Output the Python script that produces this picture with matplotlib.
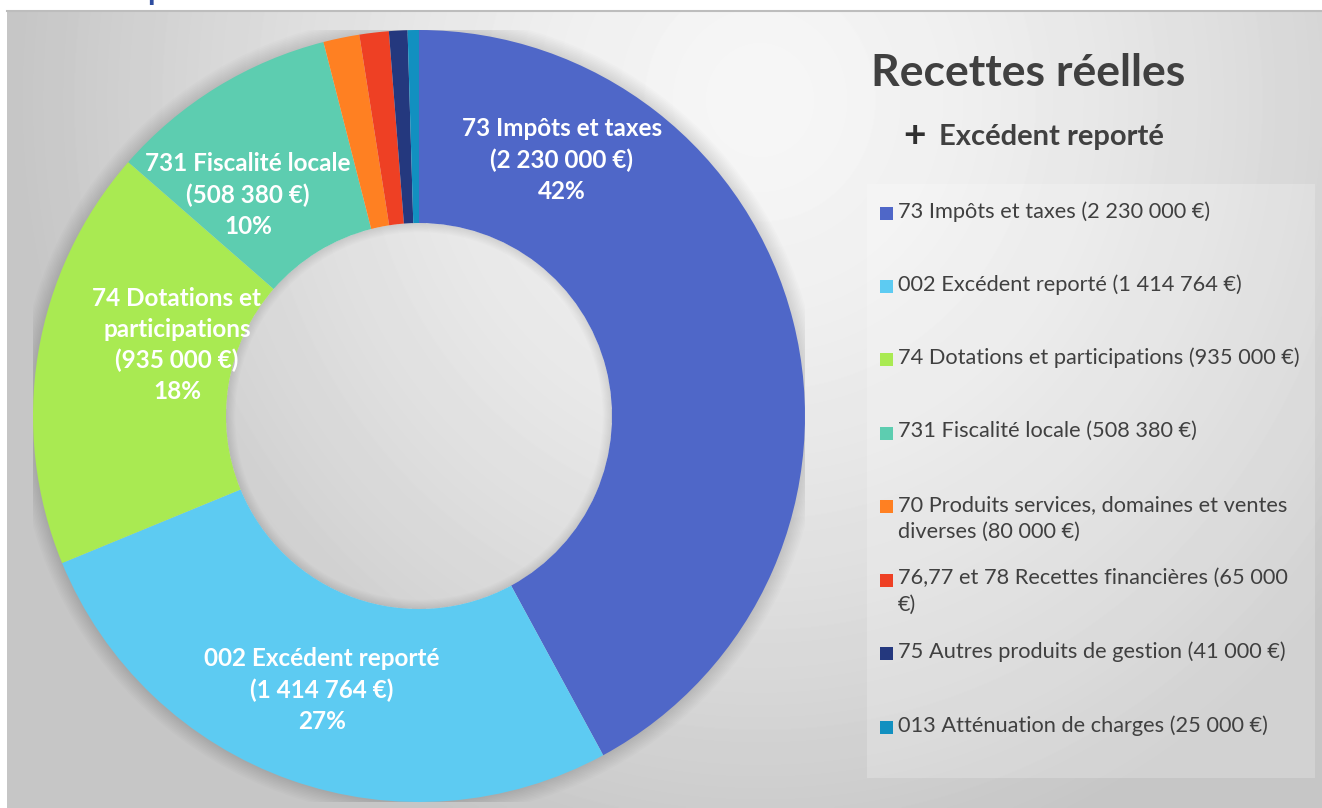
import numpy as np
import matplotlib
matplotlib.use("Agg")
import matplotlib.pyplot as plt
from matplotlib.patches import Rectangle, Wedge

plt.rcParams["font.family"] = ["Lato", "DejaVu Sans"]

# data
categories = [
    "73 Impôts et taxes",
    "002 Excédent reporté",
    "74 Dotations et participations",
    "731 Fiscalité locale",
    "70 Produits services, domaines et ventes diverses",
    "76,77 et 78 Recettes financières",
    "75 Autres produits de gestion",
    "013 Atténuation de charges",
]
values = [2230000, 1414764, 935000, 508380, 80000, 65000, 41000, 25000]
colors = ["#4F67C8", "#5DCBF2", "#A9EA52", "#5DCDB0",
          "#FF8022", "#EE4024", "#24387E", "#1290C0"]
legend_labels = [
    "73 Impôts et taxes (2 230 000 €)",
    "002 Excédent reporté (1 414 764 €)",
    "74 Dotations et participations (935 000 €)",
    "731 Fiscalité locale (508 380 €)",
    "70 Produits services, domaines et ventes\ndiverses (80 000 €)",
    "76,77 et 78 Recettes financières (65 000\n€)",
    "75 Autres produits de gestion (41 000 €)",
    "013 Atténuation de charges (25 000 €)",
]
# data label text for the 4 big slices
slice_labels = {
    0: "73 Impôts et taxes\n(2 230 000 €)",
    1: "002 Excédent reporté\n(1 414 764 €)",
    2: "74 Dotations et\nparticipations\n(935 000 €)",
    3: "731 Fiscalité locale\n(508 380 €)",
}
# where excel put those labels (data units, radius = 1)
label_pos = {0: (0.370, 0.663), 1: (-0.251, -0.710), 2: (-0.627, 0.184), 3: (-0.443, 0.573)}

W, H = 1322, 808
fig = plt.figure(figsize=(W / 100, H / 100), dpi=100)
fig.patch.set_facecolor("white")

# background gradient of the chart area
bg = fig.add_axes([7 / W, 0, 1 - 7 / W, (H - 11) / H])
bg.set_axis_off()
yy, xx = np.mgrid[11:H, 7:W]
d = np.sqrt(((xx - 760) / 740.0) ** 2 + ((yy - 100) / 780.0) ** 2)
d = np.clip(d, 0, 1)
shade = 246 - 48 * d ** 1.5
bg.imshow(shade, cmap="gray", vmin=0, vmax=255, aspect="auto",
          extent=[0, 1, 0, 1], interpolation="bilinear")
bg.set_xlim(0, 1)
bg.set_ylim(0, 1)
fig.add_artist(plt.Line2D([7 / W, 1], [(H - 10.5) / H] * 2, color="#BDBDBD", lw=1.5))

# cut off heading above the chart
fig.text(147 / W, 1.0, "p", color="#2E4DA0", fontsize=22, fontweight="bold", va="baseline")

# donut
cx, cy, R = 419, 416, 386
ax = fig.add_axes([(cx - R) / W, (H - cy - R) / H, 2 * R / W, 2 * R / H])

wedges, _ = ax.pie(values, colors=colors, startangle=90, counterclock=False, radius=1,
                   wedgeprops=dict(width=0.5, linewidth=0))
for w in wedges:
    w.set_zorder(3)
ax.set_xlim(-1, 1)
ax.set_ylim(-1, 1)
ax.set_axis_off()

# soft shadow around the ring and inside the hole
for k in range(10):
    ax.add_patch(Wedge((0, 0), 1.0 + 0.004 * (k + 1), 0, 360, width=0.004 * (k + 1) + 0.01,
                       facecolor="black", alpha=0.012, lw=0, zorder=1))
for k in range(8):
    ax.add_patch(Wedge((0, 0), 0.5, 0, 360, width=0.003 + 0.003 * k,
                       facecolor="black", alpha=0.012, lw=0, zorder=2))

total = sum(values)
for i, txt in slice_labels.items():
    pct = round(values[i] / total * 100)
    x, y = label_pos[i]
    ax.text(x, y, txt + "\n" + str(pct) + "%", ha="center", va="center", color="white",
            fontsize=17.5, fontweight="bold", linespacing=1.42, zorder=5)

# titles
fig.text(871 / W, (H - 73) / H, "Recettes réelles", fontsize=32, fontweight="bold",
         color="#404040", va="center")
fig.text(903 / W, (H - 135) / H, "+", fontsize=28, fontweight="bold", color="#303030", va="center")
fig.text(939 / W, (H - 137) / H, "Excédent reporté", fontsize=21, fontweight="bold",
         color="#404040", va="center")

# legend box
fig.add_artist(Rectangle((867 / W, (H - 778) / H), 448 / W, 594 / H, transform=fig.transFigure,
                         facecolor="white", alpha=0.22, lw=0))
rows = np.linspace(213, 727, len(legend_labels))
for y, lab, c in zip(rows, legend_labels, colors):
    fig.add_artist(Rectangle((880 / W, (H - y - 6.5) / H), 13 / W, 13 / H,
                             transform=fig.transFigure, facecolor=c, lw=0))
    fig.text(898 / W, (H - y + 12) / H, lab, fontsize=15.7, color="#404040", va="top",
             linespacing=1.42)

fig.savefig("out.png", dpi=100)
